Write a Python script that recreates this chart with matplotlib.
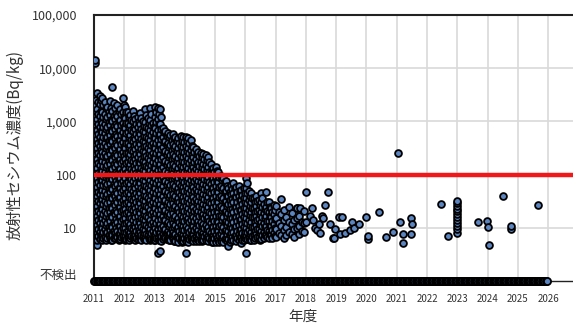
import matplotlib
matplotlib.use("Agg")
from matplotlib import pyplot as plt
from matplotlib import ticker

# Radioactive caesium results, Bq/kg.
# Densely sampled fiscal years: per month (Apr..Mar) a list of results from
# the first half of the month (_a) and from the second half (_b).
fy2011_a = [
    [14000, 12500, 3100, 2000, 1300, 820, 560, 380, 240, 160, 105, 70, 46, 30, 20, 13, 9, 6.5],
    [3400, 1700, 1100, 700, 470, 310, 200, 135, 88, 58, 39, 26, 17, 11.5, 8, 6, 4.8],
    [3000, 2100, 1250, 800, 520, 350, 230, 150, 98, 64, 43, 29, 19, 12.5, 8.5, 6.2],
    [2800, 1500, 950, 630, 420, 270, 180, 118, 78, 52, 35, 23, 15, 10, 7, 5.8],
    [2300, 1400, 900, 600, 390, 260, 170, 110, 74, 49, 32, 21, 14, 9.5, 6.8],
    [1900, 1200, 780, 520, 340, 225, 150, 100, 66, 44, 29, 19, 12.5, 8.5, 6.3],
    [2400, 1300, 850, 560, 370, 245, 160, 106, 70, 47, 31, 20, 13.5, 9, 6.5],
    [4400, 1600, 1000, 650, 430, 285, 190, 125, 82, 54, 36, 24, 16, 10.5, 7.2, 6],
    [1800, 1100, 720, 480, 320, 210, 140, 92, 61, 40, 27, 18, 12, 8, 6.4],
    [2000, 1250, 820, 540, 355, 235, 155, 102, 68, 45, 30, 20, 13, 8.8, 6.6],
    [1700, 1050, 690, 455, 300, 198, 130, 86, 57, 38, 25, 16.5, 11, 7.5, 6.1],
    [2800, 1500, 950, 620, 410, 270, 178, 117, 77, 51, 34, 22, 14.5, 9.8, 6.9],
]
fy2011_b = [
    [2500, 1600, 1000, 680, 450, 300, 195, 128, 85, 56, 37, 24.5, 16, 11, 7.6, 5.9],
    [2300, 1350, 880, 570, 385, 250, 165, 108, 72, 47, 32, 21, 14, 9.6, 6.9],
    [2500, 1600, 1000, 650, 425, 285, 188, 122, 80, 52, 35, 23.5, 15.5, 10.3, 7.2],
    [2000, 1200, 780, 510, 345, 220, 147, 96, 63, 42, 28.5, 18.5, 12.3, 8.3, 6.3],
    [1800, 1100, 730, 485, 320, 212, 138, 90, 60, 40, 26, 17, 11.5, 8, 6],
    [1500, 960, 640, 425, 278, 183, 122, 81, 54, 36, 23.5, 15.4, 10.3, 7.3],
    [1800, 1050, 690, 455, 300, 198, 130, 86, 57, 38, 25, 16.5, 11, 7.6, 5.8],
    [2200, 1250, 810, 530, 350, 233, 155, 101, 67, 44, 29.5, 19.5, 13, 8.7, 6.5],
    [1400, 890, 590, 390, 260, 172, 114, 75, 50, 33, 22, 14.7, 9.9, 7.1],
    [1600, 1000, 670, 440, 290, 192, 127, 84, 55, 37, 24.5, 16.2, 10.7, 7.6, 5.9],
    [1350, 850, 560, 370, 245, 162, 107, 71, 47, 31, 20.5, 13.5, 9.2, 6.7],
    [2000, 1200, 770, 505, 335, 220, 145, 96, 63, 42, 28, 18.2, 12, 8.3, 6.2],
]
fy2012_a = [
    [1900, 1150, 740, 480, 310, 200, 130, 85, 55, 36, 23, 15, 10, 7, 5.8],
    [1500, 950, 620, 400, 260, 170, 110, 72, 47, 31, 20, 13, 8.8, 6.3],
    [1300, 860, 560, 365, 240, 155, 100, 66, 43, 28, 18.5, 12, 8.2, 6.4],
    [1600, 1000, 650, 420, 275, 180, 117, 76, 50, 33, 21.5, 14, 9.3, 6.7],
    [1100, 720, 470, 305, 200, 130, 85, 56, 37, 24, 16, 10.5, 7.3, 6],
    [1200, 780, 510, 330, 215, 140, 92, 60, 39, 26, 17, 11, 7.6, 6.2],
    [1450, 900, 580, 380, 248, 162, 105, 69, 45, 29, 19, 12.5, 8.4, 6.5],
    [1000, 660, 430, 280, 182, 120, 78, 51, 33, 22, 14.5, 9.6, 6.9],
    [1700, 980, 640, 415, 270, 176, 115, 75, 49, 32, 21, 13.8, 9, 6.3],
    [1150, 750, 490, 320, 208, 136, 88, 57, 37, 24.5, 16, 10.5, 7.2],
    [1800, 1050, 680, 440, 285, 186, 121, 79, 51, 33, 22, 14.3, 9.4, 6.6, 5.8],
    [950, 620, 400, 260, 170, 110, 72, 47, 31, 20, 13, 8.7, 6.2],
]
fy2012_b = [
    [1500, 920, 600, 390, 250, 162, 105, 69, 45, 29, 19, 12.3, 8.3, 6.2],
    [1200, 770, 500, 325, 210, 137, 89, 58, 38, 25, 16.3, 10.7, 7.5, 5.9],
    [1050, 690, 450, 295, 192, 125, 81, 53, 35, 23, 15, 9.9, 7.1],
    [1250, 800, 520, 340, 222, 145, 94, 62, 40.5, 26.5, 17.3, 11.4, 7.9, 6.1],
    [900, 580, 380, 247, 162, 105, 69, 45, 30, 19.5, 13, 8.7, 6.5],
    [960, 630, 410, 268, 175, 114, 74, 49, 32, 21, 13.7, 9.1, 6.8],
    [1150, 720, 470, 307, 200, 131, 85, 56, 36.5, 24, 15.5, 10.3, 7.3, 5.9],
    [820, 535, 350, 228, 149, 97, 63, 41.5, 27, 18, 11.8, 8, 6.1],
    [1300, 800, 520, 338, 220, 143, 93, 61, 40, 26, 17, 11.2, 7.7, 5.9],
    [930, 605, 395, 258, 168, 110, 71, 46.5, 30.5, 20, 13, 8.7, 6.4],
    [1350, 850, 550, 357, 232, 151, 98, 64, 42, 27.5, 18, 11.8, 8, 6.1],
    [780, 505, 330, 214, 139, 91, 59, 38.5, 25, 16.5, 10.8, 7.4, 5.9],
]
fy2013_a = [
    [1900, 1200, 760, 490, 315, 205, 132, 86, 56, 36, 23.5, 15, 10, 7, 5.8],
    [1800, 1100, 700, 450, 290, 188, 122, 79, 51, 33, 21.5, 14, 9.3, 6.4, 3.4],
    [1700, 900, 580, 375, 243, 157, 102, 66, 43, 28, 18, 12, 8, 6, 3.7],
    [750, 500, 330, 215, 140, 92, 60, 39, 26, 17, 11, 7.6, 6.1],
    [650, 430, 280, 182, 118, 77, 50, 33, 21.5, 14, 9.3, 6.5],
    [600, 400, 262, 170, 110, 72, 47, 31, 20, 13, 8.8, 6.2],
    [550, 360, 235, 153, 100, 65, 42, 27.5, 18, 11.8, 8, 5.9],
    [580, 380, 248, 161, 105, 68, 44, 29, 19, 12.4, 8.4, 6.3],
    [520, 340, 222, 145, 94, 61, 40, 26, 17, 11.2, 7.6, 5.7],
    [480, 315, 205, 133, 87, 57, 37, 24, 15.6, 10.3, 7.1, 5.5],
    [530, 345, 225, 147, 96, 62, 40.5, 26.5, 17.3, 11.3, 7.7, 6],
    [500, 325, 212, 138, 90, 59, 38.5, 25, 16.3, 10.7, 7.3, 5.6],
]
fy2013_b = [
    [1500, 960, 610, 395, 255, 165, 107, 69, 45, 29, 19, 12.3, 8.4, 6.3],
    [1400, 880, 565, 365, 236, 153, 99, 64, 41.5, 27, 17.5, 11.5, 7.9, 6],
    [1200, 730, 470, 305, 197, 127, 83, 54, 35, 22.5, 14.8, 9.8, 7, 5.6],
    [620, 410, 270, 176, 114, 75, 49, 32, 21, 13.8, 9.2, 6.8],
    [540, 355, 232, 150, 98, 63, 41, 27, 17.5, 11.6, 7.9, 6.1],
    [500, 330, 215, 140, 91, 59, 38.5, 25, 16.4, 10.8, 7.5, 5.8],
    [450, 295, 193, 125, 82, 53, 34.5, 22.5, 14.7, 9.7, 6.9],
    [480, 310, 203, 132, 86, 56, 36.5, 24, 15.6, 10.3, 7.2, 5.7],
    [420, 277, 181, 118, 77, 50, 32.5, 21.5, 14, 9.3, 6.6],
    [390, 257, 168, 109, 71, 46.5, 30.5, 19.8, 13, 8.7, 6.3],
    [430, 282, 184, 120, 78, 51, 33, 21.5, 14.1, 9.3, 6.7, 5.5],
    [410, 268, 175, 114, 74, 48.5, 31.5, 20.5, 13.4, 8.9, 6.4],
]
fy2014_a = [
    [520, 340, 222, 145, 94, 61, 40, 26, 17, 11, 7.4, 5.6, 3.4],
    [480, 310, 202, 131, 85, 55, 36, 23.5, 15.3, 10, 6.8, 5.5],
    [440, 285, 185, 120, 78, 51, 33, 21.5, 14, 9.2, 6.3],
    [330, 215, 140, 91, 59, 38.5, 25, 16.3, 10.7, 7.2, 5.6],
    [300, 196, 128, 83, 54, 35, 23, 15, 9.8, 6.7, 5.7],
    [270, 176, 115, 75, 49, 32, 21, 13.6, 8.9, 6.2],
    [260, 170, 110, 72, 47, 30.5, 20, 13, 8.5, 6],
    [240, 157, 102, 67, 43.5, 28.5, 18.5, 12, 8, 5.8],
    [230, 150, 98, 64, 41.5, 27, 17.6, 11.5, 7.7, 5.8],
    [210, 137, 89, 58, 38, 24.5, 16, 10.5, 7, 5.6],
    [160, 105, 68, 44.5, 29, 19, 12.3, 8.1, 6],
    [135, 88, 57, 37, 24.3, 15.8, 10.3, 7, 5.5],
]
fy2014_b = [
    [420, 275, 180, 117, 76, 49.5, 32.5, 21, 13.8, 9.1, 6.5],
    [390, 252, 164, 107, 69, 45, 29.5, 19.2, 12.6, 8.4, 6.1],
    [350, 230, 150, 97, 63, 41, 27, 17.6, 11.5, 7.7, 5.8],
    [270, 176, 115, 75, 49, 32, 20.7, 13.5, 8.9, 6.4],
    [245, 160, 104, 68, 44.5, 29, 19, 12.4, 8.2, 6.1],
    [220, 143, 93, 61, 40, 26, 17, 11.2, 7.5, 5.7],
    [212, 138, 90, 59, 38.5, 25, 16.4, 10.8, 7.3, 5.6],
    [195, 127, 83, 54, 35.5, 23, 15.2, 10, 6.9],
    [185, 121, 79, 51.5, 33.5, 22, 14.4, 9.5, 6.6],
    [170, 111, 72, 47, 30.8, 20, 13.2, 8.8, 6.3],
    [130, 85, 55.5, 36, 23.5, 15.5, 10.2, 7, 5.5],
    [110, 72, 47, 30.5, 20, 13.2, 8.7, 6.3],
]
fy2015_a = [
    [140, 92, 60, 39, 25.5, 16.6, 10.8, 7.2, 5.5],
    [110, 72, 47, 31, 20, 13, 8.6, 6],
    [95, 62, 40, 26, 17, 11.2, 7.5, 5.6],
    [88, 57, 37, 24, 15.8, 10.3, 7, 5.4],
    [75, 49, 32, 21, 13.6, 8.9, 6.2],
    [57, 40, 28, 19, 12.8, 8.6, 6.2, 4.5],
    [65, 43, 28, 18.3, 12, 7.9, 5.8],
    [70, 46, 30, 19.5, 12.7, 8.3, 6],
    [58, 38, 25, 16.2, 10.6, 7.2, 5.6],
    [62, 40, 26, 17, 11.2, 7.5, 6],
    [52, 34, 22, 14.5, 9.5, 6.6, 5.2],
    [57, 37, 24, 15.8, 10.3, 7, 5.8],
]
fy2015_b = [
    [115, 75, 49, 32, 21, 13.6, 9, 6.4],
    [90, 59, 38.5, 25, 16.5, 10.8, 7.2, 5.5],
    [78, 51, 33, 21.5, 14, 9.2, 6.5],
    [72, 47, 30.5, 20, 13, 8.6, 6.2],
    [62, 40, 26, 17, 11.2, 7.5, 5.7],
    [48, 33, 23, 15.5, 10.5, 7.2, 5.5],
    [53, 35, 23, 15, 9.9, 6.8],
    [57, 37.5, 24.5, 16, 10.5, 7.1],
    [47, 31, 20.5, 13.3, 8.8, 6.3],
    [50, 33, 21.5, 14, 9.2, 6.6],
    [42, 28, 18.2, 12, 8, 5.9],
    [46, 30, 19.5, 12.8, 8.5, 6.3],
]
fy2016_a = [
    [88, 57, 36, 24, 15.5, 10, 7, 3.4],
    [50, 33, 21.5, 14, 9.2, 6.4],
    [45, 30, 19.5, 12.7, 8.3, 6],
    [37, 24, 16, 10.5, 7.2, 5.8],
    [40, 26, 17, 11.2, 7.5],
    [33, 22, 14.5, 9.5, 6.6],
    [46, 30, 20, 13, 8.7, 6.2],
    [28, 19, 12.5, 8.4, 6.3],
    [48, 25, 16.5, 11, 7.4],
    [30, 20, 13.2, 8.8, 6.5],
    [24, 16, 10.7, 7.3],
    [27, 18, 12, 8],
]
fy2016_b = [
    [70, 45, 29, 19, 12.5, 8.4, 6.2],
    [40, 26, 17.3, 11.4, 7.6, 5.8],
    [36, 24, 15.7, 10.3, 7.1],
    [30, 19.5, 13, 8.7, 6.4],
    [32, 21, 14, 9.3, 6.6],
    [27, 18, 11.8, 8, 6],
    [37, 24.5, 16, 10.7, 7.3],
    [23, 15.5, 10.3, 7.2],
    [31, 20.5, 13.5, 9.1, 6.6],
    [25, 16.5, 11, 7.6],
    [20, 13.2, 8.9, 6.5],
    [22, 14.8, 9.9, 7],
]
fy2017_a = [
    [26, 15, 9.5, 6.8],
    [20, 12.5, 8],
    [35, 18, 11, 7.2],
    [22, 14, 9, 6.5],
    [16, 10.5, 7.4],
    [25, 13, 8.5],
    [19, 12, 7.8],
    [14, 9.4, 6.6],
    [24, 15, 10],
    [17, 11, 7.5],
    [13, 8.6],
    [21, 12.5, 8.2],
]
monthly = {
    2011: (fy2011_a, fy2011_b),
    2012: (fy2012_a, fy2012_b),
    2013: (fy2013_a, fy2013_b),
    2014: (fy2014_a, fy2014_b),
    2015: (fy2015_a, fy2015_b),
    2016: (fy2016_a, fy2016_b),
    2017: (fy2017_a, []),
}

# Later, sparser results: sampling date (as decimal year) and value.
sparse_dates = [2017.70, 2017.80, 2018.00, 2018.02, 2018.13, 2018.19, 2018.25,
                2018.30, 2018.36, 2018.42, 2018.47, 2018.52, 2018.57, 2018.63,
                2018.74, 2018.80, 2018.89, 2018.93, 2018.96, 2019.10, 2019.13,
                2019.18, 2019.30, 2019.46, 2019.51, 2019.60, 2019.75, 2019.99,
                2020.06, 2020.06, 2020.43, 2020.65, 2020.89, 2021.04, 2021.10,
                2021.22, 2021.22, 2021.46, 2021.49, 2021.46, 2022.48, 2022.69,
                2022.98, 2022.98, 2022.98, 2022.98, 2022.98, 2022.98, 2022.98,
                2022.98, 2022.98, 2022.98, 2022.98, 2022.98, 2023.69, 2023.97,
                2024.00, 2024.05, 2024.50, 2024.76, 2024.76, 2025.68]
sparse_values = [24, 24, 48, 12.6, 17, 24, 14,
                 10, 9, 12, 8, 17, 15, 27,
                 48, 11.7, 6.4, 6.4, 9.4, 16.3, 7.6,
                 16.3, 8, 9, 12.6, 10, 11.7, 16.3,
                 7.1, 6.1, 20, 6.8, 8.5, 260, 12.6,
                 7.8, 5.1, 15.6, 11.7, 7.6, 28, 7,
                 32, 29, 26, 23, 20.5, 18, 16, 14, 12.5, 11, 9.6, 8.1, 12.6, 13.5,
                 10.4, 4.8, 39, 11, 9.4, 27]

# Sampling dates (fiscal year, month with Apr = 1) of not-detected results,
# two sampling rounds a month.
nd_months = {
    2011: [1, 1.5, 2, 2.5, 3, 3.5, 4, 4.5, 5, 5.5, 6, 6.5, 7, 7.5, 8, 8.5, 9, 9.5, 10, 10.5, 11, 11.5, 12, 12.5],
    2012: [1, 1.5, 2, 2.5, 3, 3.5, 4, 4.5, 5, 5.5, 6, 6.5, 7, 7.5, 8, 8.5, 9, 9.5, 10, 10.5, 11, 11.5, 12, 12.5],
    2013: [1, 1.5, 2, 2.5, 3, 3.5, 4, 4.5, 5, 5.5, 6, 6.5, 7, 7.5, 8, 8.5, 9, 9.5, 10, 10.5, 11, 11.5, 12, 12.5],
    2014: [1, 1.5, 2, 2.5, 3, 3.5, 4, 4.5, 5, 5.5, 6, 6.5, 7, 7.5, 8, 8.5, 9, 9.5, 10, 10.5, 11, 11.5, 12, 12.5],
    2015: [1, 1.5, 2, 2.5, 3, 3.5, 4, 4.5, 5, 5.5, 6, 6.5, 7, 7.5, 8, 8.5, 9, 9.5, 10, 10.5, 11, 11.5, 12, 12.5],
    2016: [1, 1.5, 2, 2.5, 3, 3.5, 4, 4.5, 5, 5.5, 6, 6.5, 7, 7.5, 8, 8.5, 9, 9.5, 10, 10.5, 11, 11.5, 12, 12.5],
    2017: [1, 1.5, 2, 2.5, 3, 3.5, 4, 4.5, 5, 5.5, 6, 6.5, 7, 7.5, 8, 8.5, 9, 9.5, 10, 10.5, 11, 11.5, 12, 12.5],
    2018: [1, 1.5, 2, 2.5, 3, 3.5, 4, 4.5, 5, 5.5, 6, 6.5, 7, 7.5, 8, 8.5, 9, 9.5, 10, 10.5, 11, 11.5, 12, 12.5],
    2019: [1, 1.5, 2, 2.5, 3, 3.5, 4, 4.5, 5, 5.5, 6, 6.5, 7, 7.5, 8, 8.5, 9, 9.5, 10, 10.5, 11, 11.5, 12, 12.5],
    2020: [1, 1.5, 2, 2.5, 3, 3.5, 4, 4.5, 5, 5.5, 6, 6.5, 7, 7.5, 8, 8.5, 9, 9.5, 10, 10.5, 11, 11.5, 12, 12.5],
    2021: [1, 1.5, 2, 2.5, 3, 3.5, 4, 4.5, 5, 5.5, 6, 6.5, 7, 7.5, 8, 8.5, 9, 9.5, 10, 10.5, 11, 11.5, 12, 12.5],
    2022: [1, 1.5, 2, 2.5, 3, 3.5, 4, 4.5, 5, 5.5, 6, 6.5, 7, 7.5, 8, 8.5, 9, 9.5, 10, 10.5, 11, 11.5, 12, 12.5],
    2023: [1, 1.5, 2, 2.5, 3, 3.5, 4, 4.5, 5, 5.5, 6, 6.5, 7, 7.5, 8, 8.5, 9, 9.5, 10, 10.5, 11, 11.5, 12, 12.5],
    2024: [1, 1.5, 2, 2.5, 3, 3.5, 4, 4.5, 5, 5.5, 6, 6.5, 7, 7.5, 8, 8.5, 9, 9.5, 10, 10.5, 11, 11.5, 12, 12.5],
    2025: [1, 1.5, 2, 2.5, 3, 3.5, 4, 4.5, 5, 5.5, 6, 6.5, 7, 7.5, 8, 8.5, 9, 9.5, 10, 10.5, 11, 11.5, 12, 12.5],
}

limit = 100          # standard limit, Bq/kg
nd_level = 1         # not-detected results sit on the floor of the axis
year_ticks = list(range(2011, 2027))
value_ticks = [10, 100, 1000, 10000, 100000]

plt.rcParams['font.family'] = ['Noto Sans CJK JP', 'DejaVu Sans']

# flatten the monthly lists into (date, value) points
pts = []
for fy, (first, second) in monthly.items():
    for offset, rounds in ((0.3, first), (0.75, second)):
        for m, vals in enumerate(rounds):
            for v in vals:
                pts.append((fy + (m + offset) / 12, v))
pts += list(zip(sparse_dates, sparse_values))
pts.sort()                      # draw in date order, as the results came in
xs = [p[0] for p in pts]
ys = [p[1] for p in pts]

nd_x = [fy + (m - 1) / 12 for fy, ms in nd_months.items() for m in ms]

fig = plt.figure(figsize=(5.73, 3.28), dpi=100)
ax = fig.add_axes([94 / 573, 1 - 281 / 328, 481 / 573, 266 / 328])

blue = '#5a85c0'
ax.scatter(xs, ys, s=24, c=blue, edgecolors='black', linewidths=1.3, zorder=3)
ax.scatter(nd_x, [nd_level] * len(nd_x), s=26, c=blue, edgecolors='black',
           linewidths=1.3, zorder=6, clip_on=False)
ax.axhline(limit, color='#f01818', lw=3.2, zorder=5)

ax.set_yscale('log')
ax.set_ylim(nd_level, 100000)
ax.set_xlim(2011, 2011 + 481 / 30.27)
ax.set_yticks(value_ticks)
ax.yaxis.set_major_formatter(ticker.FuncFormatter(lambda v, p: f'{int(v):,}'))
ax.yaxis.set_minor_locator(ticker.NullLocator())
ax.set_xticks(year_ticks)
ax.set_xticklabels([str(y) for y in year_ticks])

ax.grid(True, color='#d9d9d9', lw=1.2, zorder=0)
ax.set_axisbelow(True)
ax.tick_params(axis='y', length=0, pad=12, labelsize=9, labelcolor='#333333')
ax.tick_params(axis='x', length=0, pad=9, labelsize=7, labelcolor='#333333')

ax.text(-0.035, 0.022, '不検出', transform=ax.transAxes, ha='right',
        va='center', fontsize=9, color='#333333')

for side in ['left', 'top']:
    ax.spines[side].set_color('#222222')
    ax.spines[side].set_linewidth(1.5)
ax.spines['bottom'].set_color('#222222')
ax.spines['bottom'].set_linewidth(1.0)
ax.spines['right'].set_visible(False)

ax.set_ylabel('放射性セシウム濃度(Bq/kg)', fontsize=11, color='#333333')
ax.yaxis.set_label_coords(-0.147, 0.51)
ax.set_xlabel('年度', fontsize=10.5, color='#333333')
ax.xaxis.set_label_coords(0.434, -0.108)

fig.savefig('out.png', dpi=100)
